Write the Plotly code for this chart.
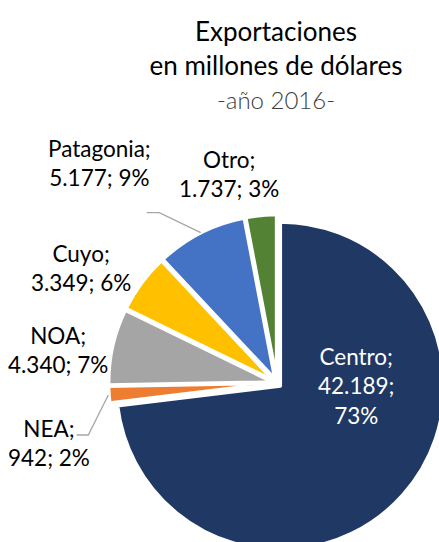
import plotly.graph_objects as go

# ---- data ----
regions = ["Centro", "NEA", "NOA", "Cuyo", "Patagonia", "Otro"]
values = [42189, 942, 4340, 3349, 5177, 1737]          # millones de USD
pct_labels = [73, 2, 7, 6, 9, 3]                       # % as printed
colors = ["#203864", "#ED7D31", "#A5A5A5", "#FFC000", "#4472C4", "#548235"]

title_lines = ["Exportaciones", "en millones de dólares"]
subtitle = "-año 2016-"

W, H = 450, 560
FONT = "Lato"


def px(x):
    return x / W


def py(y):
    return 1 - y / H


def fmt(v):
    return f"{v:,}".replace(",", ".")


# pie geometry (pixels)
cx, cy, r, pull = 277, 383, 164, 0.027
half = r * (1 + pull)

fig = go.Figure(go.Pie(
    labels=regions,
    values=values,
    sort=False,
    direction="clockwise",
    rotation=0,
    pull=[pull] * len(values),
    marker=dict(colors=colors, line=dict(color="white", width=3.5)),
    textinfo="none",
    hoverinfo="label+value+percent",
    showlegend=False,
    domain=dict(x=[px(cx - half), px(cx + half)],
                y=[py(cy + half), py(cy - half)]),
))

# label positions (pixel centers, first/last baseline)
label_pos = {
    "Centro": (356, 364.3, 423, "white"),
    "NEA": (49, 436.7, 465, "black"),
    "NOA": (58, 343.3, 371.7, "black"),
    "Cuyo": (81, 261.7, 290, "black"),
    "Patagonia": (99, 156.7, 185, "black"),
    "Otro": (229, 167.3, 195.7, "black"),
}
LS = 22.5
annotations = []
for reg, val, pc in zip(regions, values, pct_labels):
    x, b1, b2, col = label_pos[reg]
    if reg == "Centro":
        text = f"{reg};<br>{fmt(val)};<br>{pc}%"
    else:
        text = f"{reg};<br>{fmt(val)}; {pc}%"
    ymid = (b1 + b2) / 2 - 0.35 * LS
    annotations.append(dict(
        x=px(x), y=py(ymid), xref="paper", yref="paper",
        xanchor="center", yanchor="middle", align="center",
        text=text, showarrow=False,
        font=dict(family=FONT, size=LS, color=col),
    ))

# leader lines
def path(points):
    return "M " + " L ".join(f"{px(a):.5f},{py(b):.5f}" for a, b in points)

shapes = [
    dict(type="path", xref="paper", yref="paper",
         path=path([(146.7, 212.7), (159.3, 212.7), (200.7, 232.7)]),
         line=dict(color="#A6A6A6", width=1.3)),
    dict(type="path", xref="paper", yref="paper",
         path=path([(76.7, 435), (88.3, 435), (108.3, 395)]),
         line=dict(color="#A6A6A6", width=1.3)),
]

title_text = ("<br>".join(title_lines) +
              f"<br><span style='font-size:24px;color:#404040;font-weight:300'>{subtitle}</span>")

fig.update_layout(
    width=W, height=H,
    margin=dict(l=0, r=0, t=0, b=0),
    paper_bgcolor="white",
    plot_bgcolor="white",
    title=dict(text=title_text, x=px(276), xanchor="center",
               y=1 - 41 / H, yanchor="top", yref="container",
               font=dict(family=FONT, size=26, color="black")),
    annotations=annotations,
    shapes=shapes,
)

fig.write_html(
    "out.html",
    config={"displayModeBar": False},
    post_script="document.body.style.margin='0';document.body.style.overflow='hidden';"
                "document.documentElement.style.overflow='hidden';",
)
